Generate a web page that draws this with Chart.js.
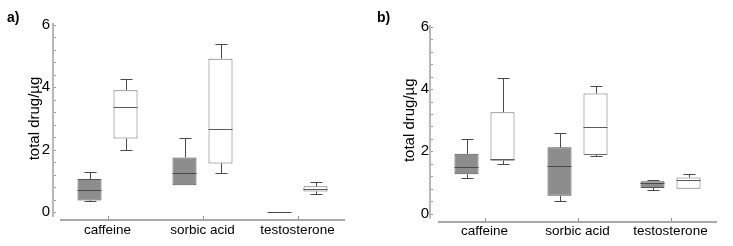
<!DOCTYPE html>
<html><head><meta charset="utf-8">
<script src="https://cdn.jsdelivr.net/npm/chart.js@4"></script>
<style>
html,body{margin:0;padding:0;background:#fff;}
#wrap{position:relative;width:733px;height:246px;}
.p{position:absolute;top:0;height:246px;}
</style>
</head><body>
<div id="wrap">
<div class="p" style="left:0;width:366px"><canvas id="ca" width="366" height="246"></canvas></div>
<div class="p" style="left:366px;width:367px"><canvas id="cb" width="367" height="246"></canvas></div>
</div>
<script>
const categories = ['caffeine', 'sorbic acid', 'testosterone'];
const yTicks = [0, 2, 4, 6];
const axisTitle = 'total drug/µg';

// Panel a) — grey (filled) boxes
const aGreyMin = [0.35, 0.86, 0];
const aGreyQ1  = [0.37, 0.86, 0];
const aGreyMed = [0.69, 1.25, 0];
const aGreyQ3  = [1.06, 1.75, 0];
const aGreyMax = [1.29, 2.36, 0];
// Panel a) — white boxes
const aWhiteMin = [1.99, 1.24, 0.58];
const aWhiteQ1  = [2.36, 1.56, 0.66];
const aWhiteMed = [3.36, 2.66, 0.75];
const aWhiteQ3  = [3.91, 4.92, 0.83];
const aWhiteMax = [4.26, 5.39, 0.96];

// Panel b) — grey (filled) boxes
const bGreyMin = [1.13, 0.39, 0.75];
const bGreyQ1  = [1.26, 0.57, 0.82];
const bGreyMed = [1.49, 1.53, 0.97];
const bGreyQ3  = [1.92, 2.13, 1.04];
const bGreyMax = [2.39, 2.58, 1.07];
// Panel b) — white boxes
const bWhiteMin = [1.58, 1.84, 0.80];
const bWhiteQ1  = [1.70, 1.88, 0.80];
const bWhiteMed = [1.74, 2.77, 1.08];
const bWhiteQ3  = [3.26, 3.86, 1.16];
const bWhiteMax = [4.35, 4.09, 1.26];

const FONT = "'Liberation Sans', Arial, Helvetica, sans-serif";

function makeChart(id, panelLabel, grey, white, geo) {
  const boxPlugin = {
    id: 'boxes_' + id,
    beforeDatasetsDraw(chart) {
      const ctx = chart.ctx, ca = chart.chartArea, y = chart.scales.y, x = chart.scales.x;
      ctx.save();
      const yx = Math.round(ca.left - geo.yLineOff);
      ctx.strokeStyle = '#b8b8b8'; ctx.lineWidth = 2;
      ctx.beginPath(); ctx.moveTo(yx, ca.top - 2); ctx.lineTo(yx, ca.bottom + 5); ctx.stroke();
      ctx.strokeStyle = '#9a9a9a'; ctx.lineWidth = 1;
      for (let k = 0; k <= 15; k++) {
        const py = Math.round(y.getPixelForValue(k * 0.4)) + 0.5;
        ctx.beginPath(); ctx.moveTo(yx + 1, py); ctx.lineTo(yx + 3, py); ctx.stroke();
      }
      const xy = Math.round(ca.bottom + geo.xLineOff);
      ctx.strokeStyle = '#a8a8a8'; ctx.lineWidth = 2;
      ctx.beginPath(); ctx.moveTo(ca.left, xy); ctx.lineTo(ca.right, xy); ctx.stroke();
      ctx.strokeStyle = '#909090'; ctx.lineWidth = 1;
      categories.forEach((c, i) => {
        const px = Math.round(x.getPixelForValue(i)) + 0.5;
        ctx.beginPath(); ctx.moveTo(px, xy - 4); ctx.lineTo(px, xy - 1); ctx.stroke();
      });
      ctx.fillStyle = '#000';
      ctx.font = 'bold 14px ' + FONT;
      ctx.textBaseline = 'top';
      ctx.fillText(panelLabel, geo.labelX, 11);
      ctx.restore();
    },
    afterDatasetsDraw(chart) {
      const ctx = chart.ctx, y = chart.scales.y;
      chart.data.datasets.forEach((ds, di) => {
        const meta = chart.getDatasetMeta(di);
        meta.data.forEach((el, i) => {
          const cx = Math.round(el.x) + 0.5, w = el.width, cap = w / 2;
          const pMin = Math.round(y.getPixelForValue(ds.mins[i])) + 0.5;
          const pMax = Math.round(y.getPixelForValue(ds.maxs[i])) + 0.5;
          const pQ1 = y.getPixelForValue(ds.data[i][0]);
          const pQ3 = y.getPixelForValue(ds.data[i][1]);
          const pMed = Math.round(y.getPixelForValue(ds.meds[i])) + 0.5;
          ctx.save();
          ctx.strokeStyle = ds.whiskerColor; ctx.lineWidth = 1;
          ctx.beginPath();
          if (ds.maxs[i] > ds.data[i][1]) {
            ctx.moveTo(cx, pQ3); ctx.lineTo(cx, pMax);
            ctx.moveTo(cx - cap / 2, pMax); ctx.lineTo(cx + cap / 2, pMax);
          }
          if (ds.mins[i] < ds.data[i][0]) {
            ctx.moveTo(cx, pQ1); ctx.lineTo(cx, pMin);
            ctx.moveTo(cx - cap / 2, pMin); ctx.lineTo(cx + cap / 2, pMin);
          }
          ctx.stroke();
          ctx.strokeStyle = ds.medianColor;
          ctx.beginPath();
          ctx.moveTo(el.x - w / 2, pMed); ctx.lineTo(el.x + w / 2, pMed);
          ctx.stroke();
          ctx.restore();
        });
      });
    }
  };

  return new Chart(document.getElementById(id), {
    type: 'bar',
    data: {
      labels: categories,
      datasets: [
        {
          data: grey.q1.map((v, i) => [v, grey.q3[i]]),
          mins: grey.min, maxs: grey.max, meds: grey.med,
          backgroundColor: '#8d8d8d', borderColor: '#555555', borderWidth: 1, borderSkipped: false,
          whiskerColor: '#4a4a4a', medianColor: '#4a4a4a'
        },
        {
          data: white.q1.map((v, i) => [v, white.q3[i]]),
          mins: white.min, maxs: white.max, meds: white.med,
          backgroundColor: '#ffffff', borderColor: '#6e6e6e', borderWidth: 1, borderSkipped: false,
          whiskerColor: '#4a4a4a', medianColor: '#5a5a5a'
        }
      ]
    },
    options: {
      responsive: false, animation: false, devicePixelRatio: 1,
      layout: { padding: { top: geo.top, left: 0, right: geo.padRight, bottom: 0 } },
      plugins: { legend: { display: false }, tooltip: { enabled: false } },
      datasets: { bar: { categoryPercentage: geo.catPct, barPercentage: 0.667 } },
      scales: {
        x: {
          grid: { display: false, drawTicks: false }, border: { display: false },
          ticks: { padding: geo.xTickPad, color: '#000', font: { family: FONT, size: 13.5 } },
          afterFit: (s) => { s.height = geo.bottomH; }
        },
        y: {
          min: 0, max: 6,
          grid: { display: false, drawTicks: false }, border: { display: false },
          afterBuildTicks: (s) => { s.ticks = yTicks.map(v => ({ value: v })); },
          ticks: { padding: geo.tickPad, color: '#000', font: { family: FONT, size: 15 } },
          title: { display: true, text: axisTitle, color: '#000', font: { family: FONT, size: 15 }, padding: { top: geo.titlePad, bottom: 0 } },
          afterFit: (s) => { s.width = geo.axisW; }
        }
      }
    },
    plugins: [boxPlugin]
  });
}

makeChart('ca', 'a)',
  { min: aGreyMin, q1: aGreyQ1, med: aGreyMed, q3: aGreyQ3, max: aGreyMax },
  { min: aWhiteMin, q1: aWhiteQ1, med: aWhiteMed, q3: aWhiteQ3, max: aWhiteMax },
  { axisW: 60, padRight: 21, top: 25, bottomH: 34, titlePad: 26, tickPad: 10, yLineOff: 7, xLineOff: 8, xTickPad: 10, labelX: 7, catPct: 72 / 95 });

makeChart('cb', 'b)',
  { min: bGreyMin, q1: bGreyQ1, med: bGreyMed, q3: bGreyQ3, max: bGreyMax },
  { min: bWhiteMin, q1: bWhiteQ1, med: bWhiteMed, q3: bWhiteQ3, max: bWhiteMax },
  { axisW: 72, padRight: 16, top: 27, bottomH: 32.5, titlePad: 35, tickPad: 9, yLineOff: 8, xLineOff: 8, xTickPad: 10, labelX: 11, catPct: 72 / 93 });
</script>
</body></html>
